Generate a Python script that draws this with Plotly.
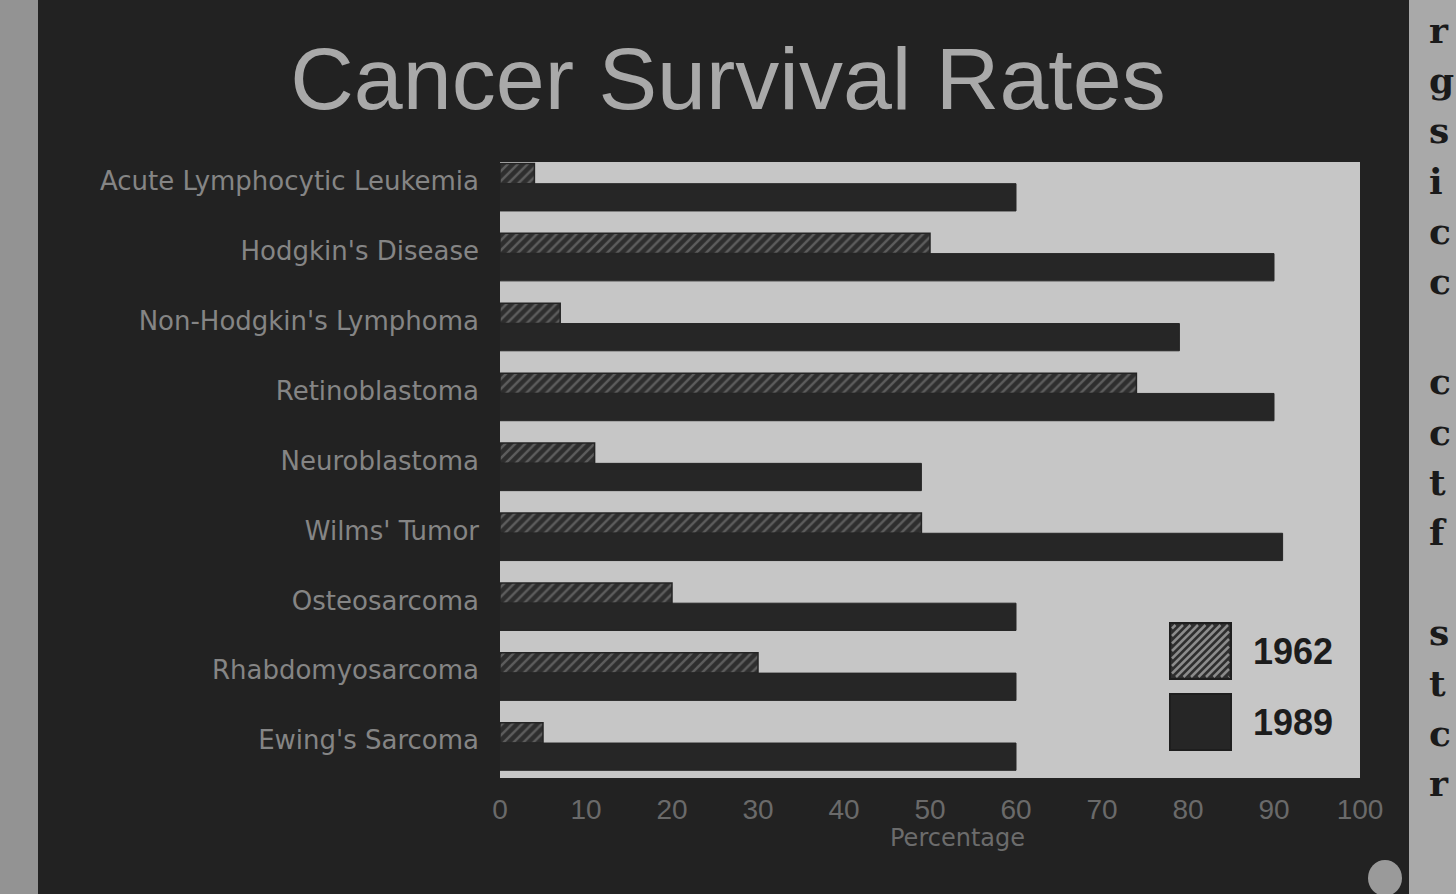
import plotly.graph_objects as go

# ---------------- data ----------------
categories = ["Acute Lymphocytic Leukemia", "Hodgkin's Disease", "Non-Hodgkin's Lymphoma",
              "Retinoblastoma", "Neuroblastoma", "Wilms' Tumor", "Osteosarcoma",
              "Rhabdomyosarcoma", "Ewing's Sarcoma"]
series_names = ["1962", "1989"]
rates_1962 = [4, 50, 7, 74, 11, 49, 20, 30, 5]
rates_1989 = [60, 90, 79, 90, 49, 91, 60, 60, 60]
x_ticks = [0, 10, 20, 30, 40, 50, 60, 70, 80, 90, 100]
title_text = "Cancer Survival Rates"
x_title = "Percentage"
margin_letters = ["r", "g", "s", "i", "c", "c", "", "c", "c", "t", "f", "", "s", "t", "c", "r"]

# ---------------- layout geometry ----------------
FW, FH = 1456, 894
L, R, T, B = 500, 1360, 162, 778
PW, PH = R - L, B - T


def px(x):
    return (x - L) / PW


def py(y):
    return (B - y) / PH


DARK = "#222222"
BAR_DARK = "#262626"
PLOT_BG = "#c6c6c6"
HATCH_BG = "#2e2e2e"
HATCH_FG = "#8c8c8c"

fig = go.Figure()

fig.add_trace(go.Bar(
    name=series_names[0], y=categories, x=rates_1962, orientation="h",
    offset=-0.25, width=0.29,
    marker=dict(color=HATCH_BG, line=dict(color="#242424", width=1.5),
                pattern=dict(shape="/", fgcolor=HATCH_FG, bgcolor=HATCH_BG,
                             size=7, solidity=0.35)),
    showlegend=False,
))
fig.add_trace(go.Bar(
    name=series_names[1], y=categories, x=rates_1989, orientation="h",
    offset=0.04, width=0.39,
    marker=dict(color=BAR_DARK, line=dict(color=BAR_DARK, width=1)),
    showlegend=False,
))

shapes = []
# newspaper paper strips on both sides
shapes.append(dict(type="rect", xref="paper", yref="paper", layer="below",
                   x0=px(0), x1=px(38), y0=py(0), y1=py(FH),
                   fillcolor="#939393", line=dict(width=0)))
shapes.append(dict(type="rect", xref="paper", yref="paper", layer="below",
                   x0=px(1409), x1=px(FW), y0=py(0), y1=py(FH),
                   fillcolor="#a9a9a9", line=dict(width=0)))

# custom legend (large swatches)
sw_x0, sw_x1 = 1170, 1231
sw1_y0, sw1_y1 = 623, 679
sw2_y0, sw2_y1 = 694, 750
shapes.append(dict(type="rect", xref="paper", yref="paper",
                   x0=px(sw_x0), x1=px(sw_x1), y0=py(sw1_y1), y1=py(sw1_y0),
                   fillcolor=HATCH_BG, line=dict(color="#1e1e1e", width=2)))
step = 7.5
c = sw_x0 + sw1_y0 + step
while c < sw_x1 + sw1_y1:
    xa = max(sw_x0 + 2, c - (sw1_y1 - 2))
    xb = min(sw_x1 - 2, c - (sw1_y0 + 2))
    if xb > xa:
        shapes.append(dict(type="line", xref="paper", yref="paper",
                           x0=px(xa), y0=py(c - xa), x1=px(xb), y1=py(c - xb),
                           line=dict(color=HATCH_FG, width=2.5)))
    c += step
shapes.append(dict(type="rect", xref="paper", yref="paper",
                   x0=px(sw_x0), x1=px(sw_x1), y0=py(sw2_y1), y1=py(sw2_y0),
                   fillcolor=BAR_DARK, line=dict(color="#1e1e1e", width=2)))

# small logo mark bottom right
shapes.append(dict(type="circle", xref="paper", yref="paper",
                   x0=px(1368), x1=px(1402), y0=py(896), y1=py(860),
                   fillcolor="#9a9a9a", line=dict(color="#9a9a9a", width=0)))

annotations = []
for name, yc in zip(series_names, [(sw1_y0 + sw1_y1) / 2, (sw2_y0 + sw2_y1) / 2]):
    annotations.append(dict(text=f"<b>{name}</b>", xref="paper", yref="paper",
                            x=px(1251), y=py(yc), xanchor="left", yanchor="middle",
                            showarrow=False,
                            font=dict(family="Liberation Sans Narrow, Liberation Sans, Arial",
                                      size=36, color="#1c1c1c")))

annotations.append(dict(text=x_title, xref="paper", yref="paper",
                        x=px(957), y=py(838), xanchor="center", yanchor="middle",
                        showarrow=False,
                        font=dict(family="DejaVu Sans", size=24, color="#6c6c6c")))

for i, ch in enumerate(margin_letters):
    if not ch:
        continue
    annotations.append(dict(text=f"<b>{ch}</b>", xref="paper", yref="paper",
                            x=px(1427), y=py(30 + 50.2 * i), xanchor="left",
                            yanchor="middle", showarrow=False,
                            font=dict(family="DejaVu Serif", size=36, color="#1a1a1a")))

fig.update_layout(
    width=FW, height=FH,
    margin=dict(l=L, r=FW - R, t=T, b=FH - B, pad=0),
    paper_bgcolor=DARK,
    plot_bgcolor=PLOT_BG,
    barmode="overlay",
    title=dict(text=title_text, x=0.5, xref="container", xanchor="center",
               y=1 - 78 / FH, yref="container", yanchor="middle",
               font=dict(family="Liberation Sans, Arial", size=88, color="#a9a9a9")),
    xaxis=dict(range=[0, 100], tickvals=x_ticks, showgrid=False, zeroline=False,
               showline=False, ticks="", ticklabelstandoff=12, fixedrange=True,
               tickfont=dict(family="Liberation Sans Narrow, Liberation Sans, Arial",
                             size=28, color="#6a6a6a")),
    yaxis=dict(range=[8.54, -0.27], showgrid=False, zeroline=False, showline=False,
               ticks="", ticklabelstandoff=20, fixedrange=True,
               tickfont=dict(family="DejaVu Sans", size=26, color="#858585")),
    shapes=shapes,
    annotations=annotations,
    showlegend=False,
)

fig.write_html("out.html", config={"displayModeBar": False},
               post_script="document.body.style.margin='0';document.body.style.overflow='hidden';")
